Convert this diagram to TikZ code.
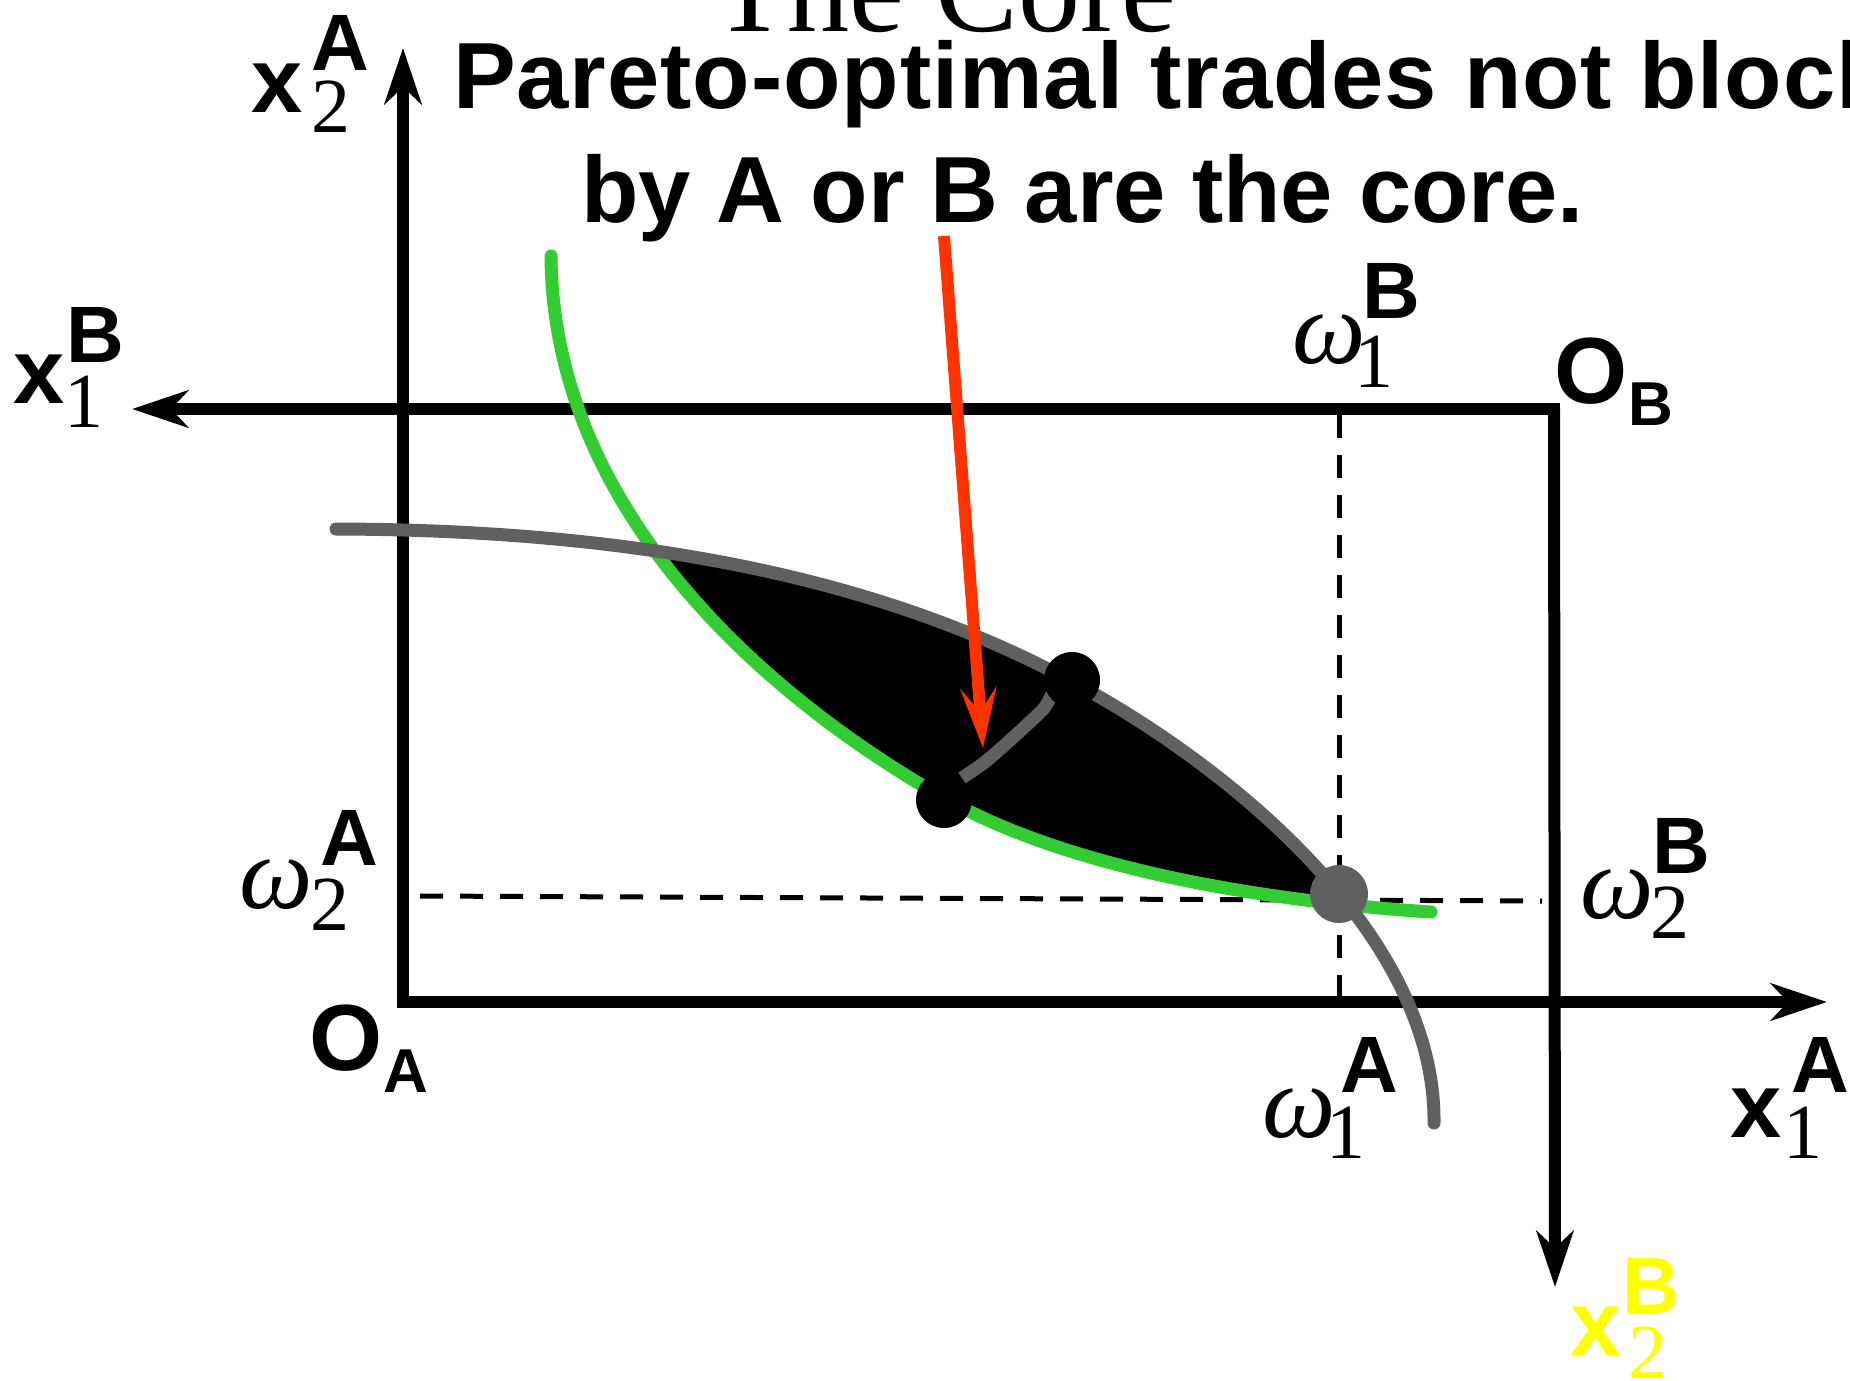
\documentclass[tikz,border=0pt]{standalone}
\usepackage{fontspec}
\setmainfont{Liberation Serif}
\setsansfont{Liberation Sans}
\usetikzlibrary{arrows.meta}
\definecolor{cgreen}{RGB}{51,204,51}
\definecolor{cgray}{RGB}{96,96,96}
\definecolor{cred}{RGB}{255,51,0}
\definecolor{cyellow}{RGB}{255,255,0}
\newcommand{\fbig}{\fontsize{92}{92}\selectfont\sffamily\bfseries}
\newcommand{\fsup}{\fontsize{80}{80}\selectfont\sffamily\bfseries}
\newcommand{\fsubd}{\fontsize{78}{78}\selectfont\rmfamily\mdseries\upshape}
\newcommand{\fom}{\fontsize{104}{104}\selectfont\rmfamily\itshape}
\newcommand{\forig}{\fontsize{94}{94}\selectfont\sffamily\bfseries}
\newcommand{\forigsub}{\fontsize{62}{62}\selectfont\sffamily\bfseries}
% base, dx to sup, raise of sup, sup, dx sup->sub, raise of sub, sub
\newcommand{\lab}[7]{\rlap{#1}\hspace*{#2pt}\rlap{\raisebox{#3pt}{\fsup #4}}\hspace*{#5pt}\raisebox{#6pt}{\fsubd #7}}
\newcommand{\olab}[2]{\rlap{\forig O}\hspace*{74pt}\raisebox{-22pt}{\forigsub #2}}
\begin{document}
\begin{tikzpicture}[x=1pt,y=-1pt,
  every node/.style={inner sep=0pt, outer sep=0pt, anchor=base west},
  ax/.style={line width=12pt, -{Stealth[length=56pt,width=37pt,inset=17pt]}},
  dsh/.style={line width=5pt, dash pattern=on 23pt off 17pt},
  curve/.style={line width=13pt, line cap=round},
  dotb/.style={circle, fill=black, minimum size=56pt, inner sep=0pt, anchor=center},
  dotg/.style={circle, fill=cgray, minimum size=58pt, inner sep=0pt, anchor=center},
  redarrow/.style={cred, line width=12pt, -{Stealth[length=60pt,width=36pt,inset=24pt]}},
  headline/.style={font=\fontsize{94}{94}\selectfont\sffamily\bfseries}
]
\useasboundingbox (0,0) rectangle (1850,1381);
\clip (0,0) rectangle (1850,1381);

% coordinates for axes
\coordinate (OAv) at (403,1008);
\coordinate (OAh) at (397,1002);
\coordinate (yAtip) at (403,48);
\coordinate (xAtip) at (1827,1002);
\coordinate (OB) at (1554,409);
\coordinate (OBh) at (1560,409);
\coordinate (xBtip) at (132,409);
\coordinate (yBtip) at (1555,1287);
\coordinate (dv1) at (1339,415);
\coordinate (dv2) at (1339,1003);
\coordinate (dh1) at (420,896);
\coordinate (dh2) at (1542,901);

% curve end points
\coordinate (gs) at (551,256);
\coordinate (gm) at (944,798);
\coordinate (ge) at (1431,912);
\coordinate (ys) at (336,529);
\coordinate (ym) at (1071,681);
\coordinate (ye) at (1434,1123);

% axes
\draw[ax] (OAv) -- (yAtip);
\draw[ax] (OAh) -- (xAtip);
\draw[ax] (OBh) -- (xBtip);
\draw[ax] (OB) -- (yBtip);

% dashed endowment lines
\draw[dsh] (dv1) -- (dv2);
\draw[dsh] (dh1) -- (dh2);

% black lens (core region)
\begin{scope}
\clip (ys) .. controls (700,530) and (920,600) .. (ym) .. controls (1240,772) and (1436,940) .. (ye) -- (1434,1381) -- (336,1381) -- cycle;
\fill[black] (gs) .. controls (553,520) and (780,705) .. (gm) .. controls (1064,866) and (1250,900) .. (ge) -- (1431,0) -- (551,0) -- cycle;
\end{scope}

% green indifference curve
\draw[curve, cgreen] (gs) .. controls (553,520) and (780,705) .. (gm) .. controls (1064,866) and (1250,900) .. (ge);

% gray indifference curve
\draw[curve, cgray] (ys) .. controls (700,530) and (920,600) .. (ym) .. controls (1240,772) and (1436,940) .. (ye);

% core points and the core segment between them
\node[dotb] (d2) at (944,800) {};
\draw[cgray, line width=13pt] plot[smooth, tension=0.5] coordinates {(962,778) (985,762) (1007,743) (1032,720) (1045,707) (1054,690)};
\node[dotb] (d1) at (1072,680) {};
\node[dotg] (endow) at (1339,894) {};

% red arrow
\coordinate (rs) at (944,236);
\coordinate (rt) at (983,748);
\draw[redarrow] (rs) -- (rt);

% title and text
\node[font=\fontsize{124}{124}\selectfont\rmfamily] (title) at (712,32) {The Core};
\node[headline] (t1) at (453,108) {\addfontfeature{LetterSpace=1.0}Pareto-optimal trades not blocked};
\node[headline] (t2) at (581,222) {by A or B are the core.};

% axis and endowment labels
\node (x2A) at (251,112) {\lab{\fbig x}{60}{42}{A}{0}{-20}{2}};
\node (x1B) at (13,403) {\lab{\fbig x}{53}{41}{B}{-2}{-24}{1}};
\node (x1A) at (1730,1137) {\lab{\fbig x}{61}{45}{A}{-8}{-21}{1}};
\node[text=cyellow] (x2B) at (1570,1355) {\lab{\fbig x}{52}{42}{B}{6}{-23}{2}};
\node (w1B) at (1292,363) {\lab{\fom ω}{70}{45}{B}{-8}{-24}{1}};
\node (w2A) at (239,908) {\lab{\fom ω}{81}{43}{A}{-10}{-22}{2}};
\node (w2B) at (1580,918) {\lab{\fom ω}{72}{45}{B}{-2}{-20}{2}};
\node (w1A) at (1262,1137) {\lab{\fom ω}{78}{45}{A}{-14}{-21}{1}};
\node (OAlab) at (309,1070) {\olab{O}{A}};
\node (OBlab) at (1554,403) {\olab{O}{B}};
\end{tikzpicture}
\end{document}
